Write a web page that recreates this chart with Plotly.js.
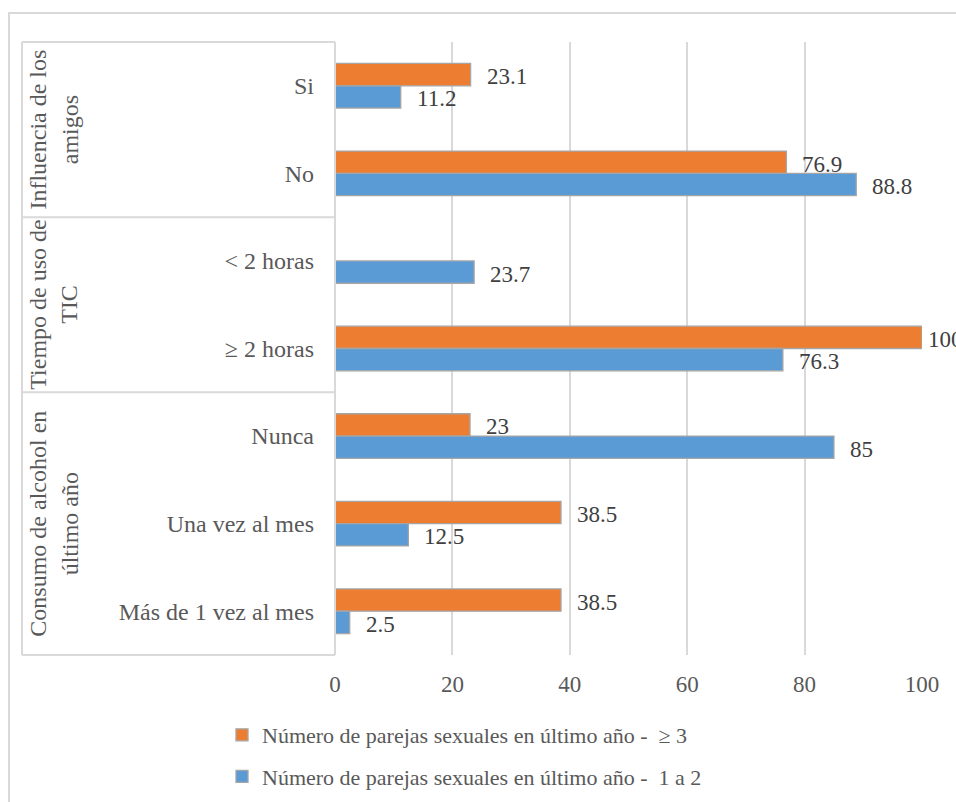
<!DOCTYPE html>
<html>
<head>
<meta charset="utf-8">
<script src="https://cdn.plot.ly/plotly-3.0.1.min.js"></script>
<style>
  html, body { margin: 0; padding: 0; background: #fff; }
  #chart { width: 956px; height: 802px; }
</style>
</head>
<body>
<div id="chart"></div>
<script>
// ---- Data ----
const categories = ["Si", "No", "< 2 horas", "\u2265 2 horas", "Nunca", "Una vez al mes", "M\u00e1s de 1 vez al mes"];
const groupLabels = ["Influencia de los<br>amigos", "Tiempo de uso de<br>TIC", "Consumo de alcohol en<br>\u00faltimo a\u00f1o"];
const groupSizes = [2, 2, 3];
const seriesNames = ["N\u00famero de parejas sexuales en \u00faltimo a\u00f1o -  \u2265 3",
                     "N\u00famero de parejas sexuales en \u00faltimo a\u00f1o -  1 a 2"];
const valuesAtLeast3 = [23.1, 76.9, null, 100, 23, 38.5, 38.5];
const values1to2 = [11.2, 88.8, 23.7, 76.3, 85, 12.5, 2.5];
const xTicks = [0, 20, 40, 60, 80, 100];

// ---- Layout constants (pixels) ----
const W = 956, H = 802;
const L = 335, R = 922, T = 42, B = 655;
const px = x => (x - L) / (R - L);
const py = y => (B - y) / (B - T);
const FONT = "Liberation Serif";
const grey = "#d9d9d9";
const bargap = 0.49;

const outline = { color: "#a5a5a5", width: 1.3 };
const traces = [
  { type: "bar", orientation: "h", name: seriesNames[0], y: categories, x: valuesAtLeast3,
    marker: { color: "#ED7D31", line: outline }, legendgroup: "a", hoverinfo: "x" },
  { type: "bar", orientation: "h", name: seriesNames[1], y: categories, x: values1to2,
    marker: { color: "#5B9BD5", line: outline }, legendgroup: "b", hoverinfo: "x" }
];

// data labels as annotations anchored at data coordinates
const annotations = [];
const bw = (1 - bargap) / 2;
const xmax = xTicks[xTicks.length - 1];
[valuesAtLeast3, values1to2].forEach((vals, s) => {
  vals.forEach((v, i) => {
    if (v === null) return;
    annotations.push({
      x: v, y: i + (s === 0 ? -bw / 2 : bw / 2), xref: "x", yref: "y",
      text: String(v), showarrow: false, xanchor: "left", yanchor: "middle",
      xshift: v >= xmax ? 4 : 14, yshift: -2,
      font: { family: FONT, size: 23, color: "#404040" }
    });
  });
});

// group labels + separators
const shapes = [];
const n = categories.length;
let start = 0;
shapes.push({ type: "line", xref: "paper", yref: "paper", x0: px(22), x1: 0, y0: 1, y1: 1, line: { color: grey, width: 2 } });
groupSizes.forEach((g, k) => {
  const yTop = 1 - start / n, yBot = 1 - (start + g) / n;
  annotations.push({
    x: px(54), y: (yTop + yBot) / 2, xref: "paper", yref: "paper",
    text: groupLabels[k], showarrow: false, textangle: -90,
    xanchor: "center", yanchor: "middle", align: "center",
    font: { family: FONT, size: 24, color: "#595959" }
  });
  shapes.push({ type: "line", xref: "paper", yref: "paper", x0: px(22), x1: 0, y0: yBot, y1: yBot, line: { color: grey, width: 2 } });
  start += g;
});
shapes.push({ type: "line", xref: "paper", yref: "paper", x0: px(22), x1: px(22), y0: 0, y1: 1, line: { color: grey, width: 2 } });
shapes.push({ type: "line", xref: "paper", yref: "paper", x0: 0, x1: 0, y0: 0, y1: 1, line: { color: grey, width: 2 } });
// outer chart border
shapes.push({ type: "rect", xref: "paper", yref: "paper", x0: px(9), x1: px(W + 20), y0: py(H + 20), y1: py(13), line: { color: grey, width: 2 }, layer: "below" });

const layout = {
  width: W, height: H,
  margin: { l: L, r: W - R, t: T, b: H - B, pad: 0, autoexpand: false },
  paper_bgcolor: "#fff", plot_bgcolor: "#fff",
  font: { family: FONT, size: 23, color: "#595959" },
  barmode: "group", bargap: bargap, bargroupgap: 0,
  showlegend: true,
  legend: {
    orientation: "v", x: px(222), xanchor: "left", y: py(714), yanchor: "top",
    font: { family: FONT, size: 22, color: "#595959" },
    traceorder: "grouped", tracegroupgap: 10, itemwidth: 30,
    bgcolor: "rgba(0,0,0,0)"
  },
  xaxis: {
    range: [0, xmax], tickvals: xTicks, ticktext: xTicks.map(String),
    showgrid: true, gridcolor: grey, gridwidth: 2, automargin: false,
    zeroline: false, showline: false, ticks: "", ticklabelstandoff: 13,
    tickfont: { family: FONT, size: 23, color: "#595959" }, fixedrange: true
  },
  yaxis: {
    type: "category", categoryorder: "array", categoryarray: categories,
    autorange: "reversed", showgrid: false, zeroline: false, showline: false,
    ticks: "", ticklabelstandoff: 20, automargin: false,
    tickfont: { family: FONT, size: 24, color: "#595959" }, fixedrange: true
  },
  annotations: annotations,
  shapes: shapes
};

Plotly.newPlot("chart", traces, layout, { displayModeBar: false, staticPlot: true });
</script>
</body>
</html>
